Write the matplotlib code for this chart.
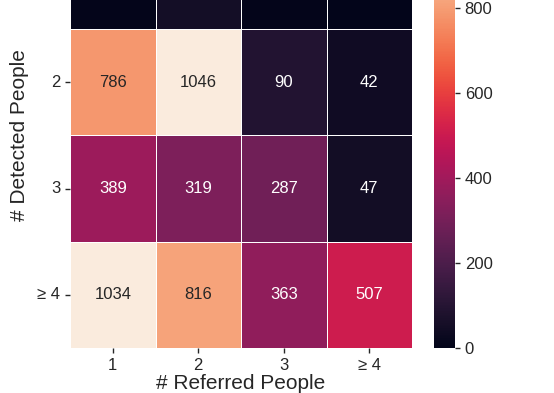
import numpy as np
import matplotlib
matplotlib.use("Agg")
import matplotlib.pyplot as plt
import seaborn as sns

referred_labels = ["1", "2", "3", "\u2265 4"]
detected_labels = ["1", "2", "3", "\u2265 4"]

# rows = detected people, cols = referred people (first row is mostly cropped in the reference)
row_1 = [6, 52, 4, 3]
row_2 = [786, 1046, 90, 42]
row_3 = [389, 319, 287, 47]
row_4 = [1034, 816, 363, 507]

counts = np.array([row_1, row_2, row_3, row_4])

# the first row sits above the visible area, so its numbers are left out
annot_text = counts.astype(str)
annot_text[0, :] = ""

plt.rcParams["font.family"] = ["Liberation Sans", "DejaVu Sans"]
plt.rcParams["text.color"] = "#262626"
plt.rcParams["axes.labelcolor"] = "#262626"
plt.rcParams["xtick.color"] = "#262626"
plt.rcParams["ytick.color"] = "#262626"

W, H = 554, 393
fig = plt.figure(figsize=(W / 100, H / 100), dpi=100)
ax = fig.add_axes([70 / W, (H - 348) / H, 342 / W, 425 / H])
cax = fig.add_axes([434 / W, (H - 348) / H, 21 / W, 425 / H])

sns.heatmap(counts, ax=ax, cbar_ax=cax, cmap="rocket", vmin=0, vmax=1000,
            annot=annot_text, fmt="", linewidths=0.5, linecolor="white",
            annot_kws={"size": 12},
            xticklabels=referred_labels, yticklabels=detected_labels)

ax.set_yticks(ax.get_yticks()[1:])
ax.set_yticklabels(detected_labels[1:])
ax.set_xlabel("# Referred People", fontsize=15, labelpad=1)
ax.set_ylabel("# Detected People", fontsize=15, labelpad=6)
ax.tick_params(axis="both", labelsize=12, length=3.5, width=1)
ax.tick_params(axis="y", rotation=0)
cax.tick_params(labelsize=12, length=3.5, width=1)
cax.set_yticks([0, 200, 400, 600, 800])

fig.savefig("out.png", dpi=100)
